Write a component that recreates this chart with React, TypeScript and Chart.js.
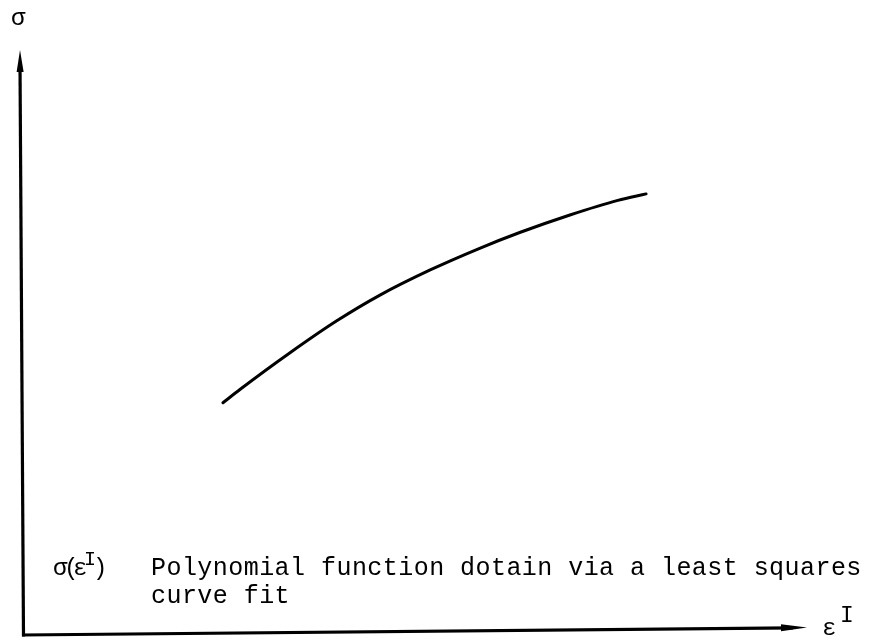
import React, { useEffect, useRef } from "react";
import { Chart, registerables } from "chart.js";

Chart.register(...registerables);

// Inelastic strain (x) and stress (y) samples along the fitted curve, in axis units 0–100
const strainValues = [25.6, 27.8, 34.1, 40.1, 45.6, 52.0, 58.3, 63.4, 69.8, 75.9, 79.5];
const stressValues = [39.7, 42.0, 48.2, 53.7, 58.1, 62.4, 66.1, 68.8, 71.8, 74.3, 75.4];

const captionLine1 = "Polynomial function dotain via a least squares";
const captionLine2 = "curve fit";

const WIDTH = 879;
const HEIGHT = 641;

function drawArrowHead(ctx: CanvasRenderingContext2D, fromX: number, fromY: number, toX: number, toY: number, len: number, half: number) {
  const ang = Math.atan2(toY - fromY, toX - fromX);
  const bx = toX - Math.cos(ang) * len;
  const by = toY - Math.sin(ang) * len;
  const nx = -Math.sin(ang) * half;
  const ny = Math.cos(ang) * half;
  ctx.beginPath();
  ctx.moveTo(toX, toY);
  ctx.lineTo(bx + nx, by + ny);
  ctx.lineTo(bx - nx, by - ny);
  ctx.closePath();
  ctx.fill();
}

const sketchAxes = {
  id: "sketchAxes",
  afterDraw(chart: any) {
    const ctx: CanvasRenderingContext2D = chart.ctx;
    const { left, right, top, bottom } = chart.chartArea;
    ctx.save();
    ctx.strokeStyle = "#000";
    ctx.fillStyle = "#000";
    ctx.lineWidth = 3.2;
    ctx.lineCap = "butt";

    // vertical axis (σ), slightly leaning like the hand-drawn figure
    const yBaseX = left + 1.5;
    const yTipX = left - 2;
    ctx.beginPath();
    ctx.moveTo(yBaseX, bottom + 1.5);
    ctx.lineTo(yTipX, top + 14);
    ctx.stroke();
    drawArrowHead(ctx, yBaseX, bottom, yTipX, top, 22, 3.5);

    // horizontal axis (ε^I)
    const xTipY = bottom - 7.5;
    ctx.beginPath();
    ctx.moveTo(left, bottom);
    ctx.lineTo(right - 14, xTipY + 0.3);
    ctx.stroke();
    drawArrowHead(ctx, left, bottom, right, xTipY, 26, 3.5);

    ctx.textBaseline = "alphabetic";
    ctx.textAlign = "left";

    // axis symbols
    ctx.font = "24px 'Liberation Mono'";
    ctx.fillText("σ", 11, 25);
    ctx.fillText("ε", 822, 635);
    ctx.font = "23px 'Liberation Mono'";
    ctx.fillText("I", 840, 622);

    // caption: σ(ε^I)
    ctx.font = "24px 'Liberation Mono'";
    ctx.fillText("σ", 53, 575);
    ctx.fillText("(", 64, 575);
    ctx.fillText("ε", 73, 575);
    ctx.fillText(")", 93, 575);
    ctx.font = "20px 'Liberation Mono'";
    ctx.fillText("I", 84, 565);

    // caption text
    ctx.font = "25px 'Liberation Mono'";
    (ctx as any).letterSpacing = "0.45px";
    ctx.fillText(captionLine1, 151, 575);
    ctx.fillText(captionLine2, 151, 603);
    ctx.restore();
  },
};

export default function App() {
  const canvasRef = useRef<HTMLCanvasElement | null>(null);

  useEffect(() => {
    const canvas = canvasRef.current;
    if (!canvas) return;
    const points = strainValues.map((x, i) => ({ x, y: stressValues[i] }));
    const chart = new Chart(canvas, {
      type: "line",
      data: {
        datasets: [
          {
            data: points,
            borderColor: "#000",
            borderWidth: 3,
            pointRadius: 0,
            cubicInterpolationMode: "monotone",
            borderCapStyle: "round",
            fill: false,
          },
        ],
      },
      options: {
        responsive: false,
        animation: false,
        events: [],
        layout: { padding: { left: 22, top: 50, right: 72, bottom: 6 } },
        plugins: { legend: { display: false }, tooltip: { enabled: false }, title: { display: false } },
        scales: {
          x: { type: "linear", min: 0, max: 100, display: false },
          y: { type: "linear", min: 0, max: 100, display: false },
        },
      },
      plugins: [sketchAxes],
    });
    return () => chart.destroy();
  }, []);

  return (
    <div style={{ position: "fixed", left: 0, top: 0, width: WIDTH, height: HEIGHT, background: "#fff" }}>
      <canvas ref={canvasRef} width={WIDTH} height={HEIGHT} />
    </div>
  );
}
